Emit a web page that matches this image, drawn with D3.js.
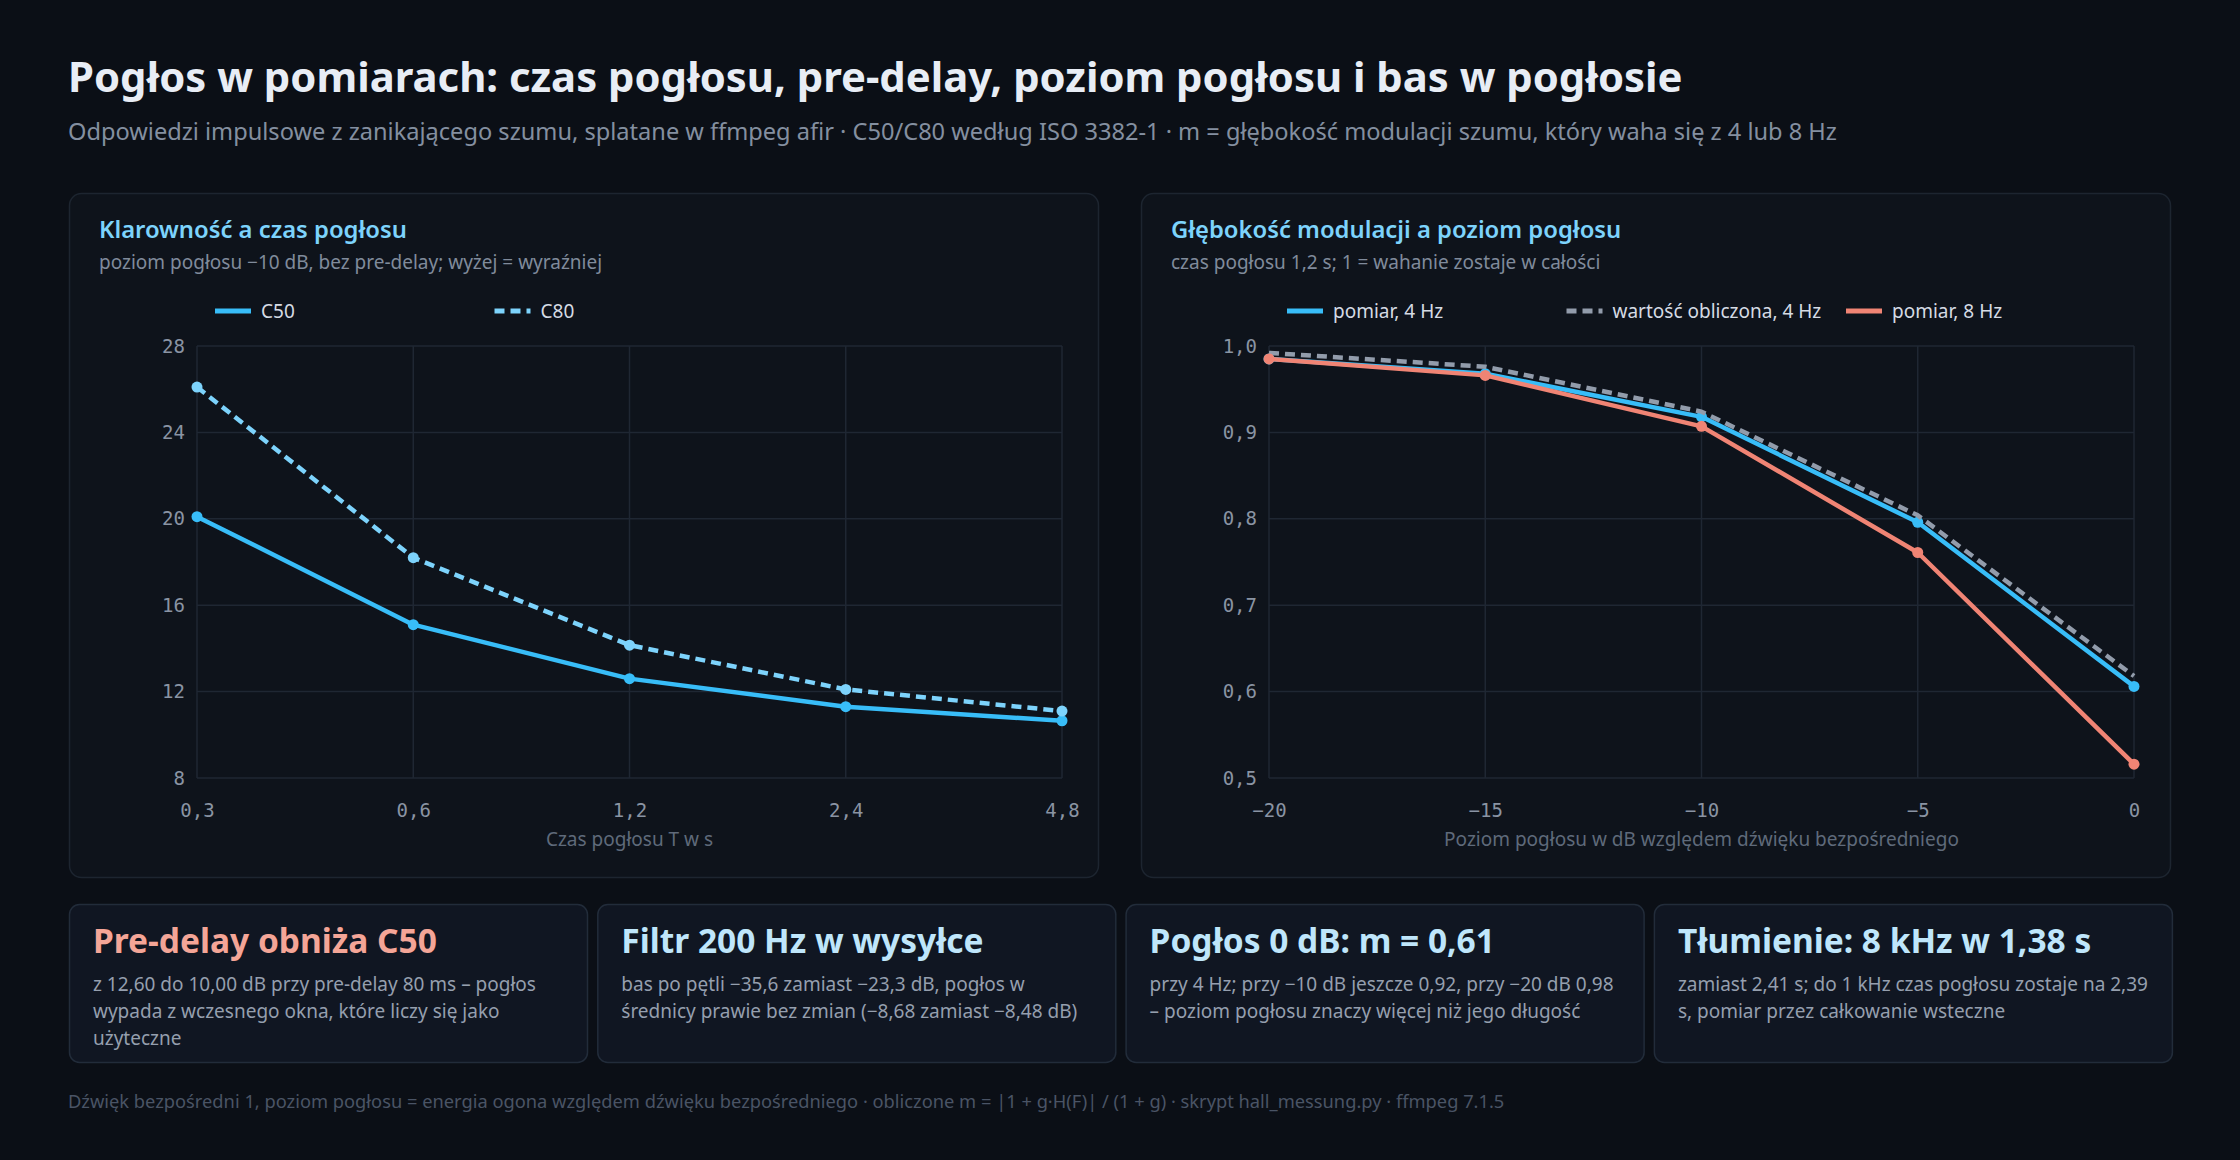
<!DOCTYPE html>
<html><head><meta charset="utf-8">
<script src="https://cdn.jsdelivr.net/npm/d3@7"></script>
<style>
html,body{margin:0;padding:0;background:#0b0f16;}
svg{display:block;}
</style></head>
<body><svg id="c" width="2240" height="1160"></svg>
<script>
// ---- data ----
const reverbTimes = [0.3, 0.6, 1.2, 2.4, 4.8];
const reverbTickLabels = ["0,3", "0,6", "1,2", "2,4", "4,8"];
const c50 = [20.1, 15.1, 12.6, 11.3, 10.65];
const c80 = [26.1, 18.2, 14.15, 12.1, 11.1];
const clarityTicks = [8, 12, 16, 20, 24, 28];

const reverbLevels = [-20, -15, -10, -5, 0];
const modMeasured4 = [0.985, 0.968, 0.918, 0.796, 0.606];
const modCalc4 = [0.992, 0.976, 0.924, 0.804, 0.618];
const modMeasured8 = [0.985, 0.966, 0.907, 0.761, 0.516];
const modTicks = [0.5, 0.6, 0.7, 0.8, 0.9, 1.0];

const cardTitles = ["Pre-delay obniża C50", "Filtr 200 Hz w wysyłce", "Pogłos 0 dB: m = 0,61", "Tłumienie: 8 kHz w 1,38 s"];
const cardBodies = [
  ["z 12,60 do 10,00 dB przy pre-delay 80 ms – pogłos", "wypada z wczesnego okna, które liczy się jako", "użyteczne"],
  ["bas po pętli −35,6 zamiast −23,3 dB, pogłos w", "średnicy prawie bez zmian (−8,68 zamiast −8,48 dB)"],
  ["przy 4 Hz; przy −10 dB jeszcze 0,92, przy −20 dB 0,98", "– poziom pogłosu znaczy więcej niż jego długość"],
  ["zamiast 2,41 s; do 1 kHz czas pogłosu zostaje na 2,39", "s, pomiar przez całkowanie wsteczne"]
];

const FONT = "'Noto Sans', 'Open Sans', sans-serif";
const MONO = "'DejaVu Sans Mono', monospace";
const svg = d3.select("#c");

svg.append("rect").attr("width", 2240).attr("height", 1160).attr("fill", "#0b0f16");

svg.append("text").attr("x", 68).attr("y", 92).attr("font-family", FONT).attr("font-weight", 700)
  .attr("font-size", 41.8).attr("fill", "#e8edf5")
  .text("Pogłos w pomiarach: czas pogłosu, pre-delay, poziom pogłosu i bas w pogłosie");
svg.append("text").attr("x", 68).attr("y", 140).attr("font-family", FONT)
  .attr("font-size", 23.6).attr("fill", "#848fa0")
  .text("Odpowiedzi impulsowe z zanikającego szumu, splatane w ffmpeg afir · C50/C80 według ISO 3382-1 · m = głębokość modulacji szumu, który waha się z 4 lub 8 Hz");

function panel(px, title, sub) {
  const g = svg.append("g");
  g.append("rect").attr("x", px + 0.5).attr("y", 193.5).attr("width", 1029).attr("height", 684).attr("rx", 12)
    .attr("fill", "#0e131b").attr("stroke", "#1d2530").attr("stroke-width", 1.5);
  g.append("text").attr("x", px + 30).attr("y", 238).attr("font-family", FONT).attr("font-weight", 600)
    .attr("font-size", 23.8).attr("fill", "#7dd3fc").text(title);
  g.append("text").attr("x", px + 30).attr("y", 269).attr("font-family", FONT)
    .attr("font-size", 19).attr("fill", "#808b9b").text(sub);
  return g;
}

function chart(px, opts) {
  const g = panel(px, opts.title, opts.sub);
  const x0 = px + 128, x1 = px + 993, y0 = 346, y1 = 778;
  const x = opts.xScale.range([x0, x1]);
  const y = d3.scaleLinear().domain(opts.yDomain).range([y1, y0]);
  // grid
  const grid = g.append("g").attr("stroke", "#1f2733").attr("stroke-width", 1.5);
  opts.xTicks.forEach(t => grid.append("line").attr("x1", x(t)).attr("x2", x(t)).attr("y1", y0).attr("y2", y1));
  opts.yTicks.forEach(t => grid.append("line").attr("x1", x0).attr("x2", x1).attr("y1", y(t)).attr("y2", y(t)));
  // axes via d3
  const ax = g.append("g").attr("transform", `translate(0,${y1})`)
    .call(d3.axisBottom(x).tickValues(opts.xTicks).tickFormat((d, i) => opts.xLabels[i]).tickSize(0).tickPadding(26));
  const ay = g.append("g").attr("transform", `translate(${x0},0)`)
    .call(d3.axisLeft(y).tickValues(opts.yTicks).tickFormat(opts.yFormat).tickSize(0).tickPadding(12));
  [ax, ay].forEach(a => {
    a.select(".domain").remove();
    a.selectAll("text").attr("font-family", MONO).attr("font-size", 19).attr("fill", "#8a94a3");
  });
  g.append("text").attr("x", (x0 + x1) / 2).attr("y", 846).attr("text-anchor", "middle")
    .attr("font-family", FONT).attr("font-size", 19).attr("fill", "#5f6a7a").text(opts.xTitle);
  // series
  opts.series.forEach(s => {
    const line = d3.line().x((d, i) => x(opts.xs[i])).y(d => y(d));
    g.append("path").datum(s.values).attr("d", line).attr("fill", "none")
      .attr("stroke", s.color).attr("stroke-width", 4.5).attr("stroke-linejoin", "round")
      .attr("stroke-dasharray", s.dash || null);
    if (s.dots) {
      g.selectAll(null).data(s.values).enter().append("circle")
        .attr("cx", (d, i) => x(opts.xs[i])).attr("cy", d => y(d)).attr("r", 5.5).attr("fill", s.color);
    }
  });
  // legend
  opts.series.forEach((s, i) => {
    const lx = x0 + 18 + i * 279.5;
    g.append("line").attr("x1", lx).attr("x2", lx + 36).attr("y1", 311).attr("y2", 311)
      .attr("stroke", s.color).attr("stroke-width", 5).attr("stroke-dasharray", s.dash || null);
    g.append("text").attr("x", lx + 46).attr("y", 318).attr("font-family", FONT).attr("font-size", 19)
      .attr("fill", "#d5dbe4").text(s.name);
  });
}

chart(69, {
  title: "Klarowność a czas pogłosu",
  sub: "poziom pogłosu −10 dB, bez pre-delay; wyżej = wyraźniej",
  xScale: d3.scaleLog().domain([0.3, 4.8]),
  xs: reverbTimes, xTicks: reverbTimes, xLabels: reverbTickLabels,
  yDomain: [8, 28], yTicks: clarityTicks, yFormat: d => String(d),
  xTitle: "Czas pogłosu T w s",
  series: [
    { name: "C50", values: c50, color: "#38bdf8", dots: true },
    { name: "C80", values: c80, color: "#7dd3fc", dots: true, dash: "10,6" }
  ]
});

chart(1141, {
  title: "Głębokość modulacji a poziom pogłosu",
  sub: "czas pogłosu 1,2 s; 1 = wahanie zostaje w całości",
  xScale: d3.scaleLinear().domain([-20, 0]),
  xs: reverbLevels, xTicks: reverbLevels, xLabels: reverbLevels.map(v => v < 0 ? "−" + Math.abs(v) : String(v)),
  yDomain: [0.5, 1.0], yTicks: modTicks, yFormat: d => d3.format(".1f")(d).replace(".", ","),
  xTitle: "Poziom pogłosu w dB względem dźwięku bezpośredniego",
  series: [
    { name: "pomiar, 4 Hz", values: modMeasured4, color: "#38bdf8", dots: true },
    { name: "wartość obliczona, 4 Hz", values: modCalc4, color: "#929cab", dash: "10,6" },
    { name: "pomiar, 8 Hz", values: modMeasured8, color: "#f08474", dots: true }
  ]
});

// cards
const cardW = 518, cardGap = 10.3;
cardTitles.forEach((t, i) => {
  const cx = 69 + i * (cardW + cardGap);
  const g = svg.append("g");
  g.append("rect").attr("x", cx + 0.5).attr("y", 904.5).attr("width", cardW).attr("height", 158).attr("rx", 10)
    .attr("fill", "#101622").attr("stroke", "#222c3a").attr("stroke-width", 1.5);
  g.append("text").attr("x", cx + 24).attr("y", 953).attr("font-family", FONT).attr("font-weight", 700)
    .attr("font-size", 33.5).attr("fill", i === 0 ? "#f4a597" : "#bfe6fb").text(t);
  const body = g.append("text").attr("font-family", FONT).attr("font-size", 19).attr("fill", "#959fae");
  cardBodies[i].forEach((ln, j) => body.append("tspan").attr("x", cx + 24).attr("y", 991 + j * 27).text(ln));
});

svg.append("text").attr("x", 68).attr("y", 1108).attr("font-family", FONT).attr("font-size", 18.3)
  .attr("fill", "#4a5465")
  .text("Dźwięk bezpośredni 1, poziom pogłosu = energia ogona względem dźwięku bezpośredniego · obliczone m = |1 + g·H(F)| / (1 + g) · skrypt hall_messung.py · ffmpeg 7.1.5");
</script></body></html>
